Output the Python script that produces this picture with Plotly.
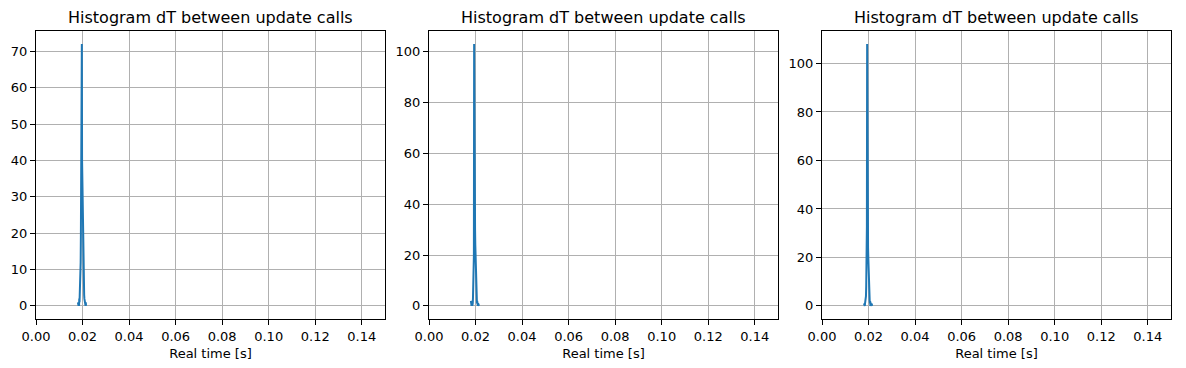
import plotly.graph_objects as go

# bin centers (s)
bins = [round(0.0180 + 0.0001 * i, 4) for i in range(36)]

counts_1 = [1, 0, 1, 0, 1, 0, 2, 1, 3, 5, 10, 8, 12, 20, 39, 30, 38, 72, 40, 35,
            28, 22, 15, 12, 14, 6, 5, 3, 2, 1, 2, 0, 1, 0, 1, 0]
counts_2 = [2, 0, 1, 0, 2, 1, 0, 2, 1, 3, 6, 12, 9, 20, 103, 45, 36, 51, 30, 24,
            18, 12, 8, 5, 3, 2, 1, 2, 0, 1, 0, 1, 0, 0, 1, 0]
counts_3 = [1, 0, 0, 1, 0, 1, 2, 1, 3, 4, 8, 12, 16, 33, 108, 42, 30, 38, 24, 20,
            14, 10, 8, 5, 3, 2, 1, 2, 0, 1, 1, 0, 1, 0, 1, 0]

series = [counts_1, counts_2, counts_3]
title = "Histogram dT between update calls"
xlabel = "Real time [s]"
x_ticks = [0.00, 0.02, 0.04, 0.06, 0.08, 0.10, 0.12, 0.14]

W, H = 1186, 368
OFF = 8  # page body margin
panels_px = [(36 - OFF, 385 - OFF), (429 - OFF, 778 - OFF), (822 - OFF, 1171 - OFF)]
y_top, y_bot = 31 - OFF, 319 - OFF
ydom = [1 - y_bot / H, 1 - y_top / H]
title_y = 17 - OFF
dticks = [10, 20, 20]

fig = go.Figure()
font = "DejaVu Sans, Liberation Sans, sans-serif"
annotations = []
for i, (vals, (x0, x1)) in enumerate(zip(series, panels_px)):
    n = i + 1
    xa = "x" if n == 1 else f"x{n}"
    ya = "y" if n == 1 else f"y{n}"
    fig.add_trace(go.Scatter(x=bins, y=vals, mode="lines",
                             line=dict(color="#1f77b4", width=2),
                             xaxis=xa, yaxis=ya, showlegend=False))
    vmax = max(vals)
    pad = 0.05 * vmax
    axis_common = dict(showline=True, linecolor="black", linewidth=1, mirror=True,
                       ticks="outside", ticklen=5, tickcolor="black", tickwidth=1,
                       showgrid=True, gridcolor="#b0b0b0", gridwidth=1, zeroline=False,
                       automargin=False,
                       tickfont=dict(family=font, size=13, color="black"))
    fig.update_layout(**{
        ("xaxis" if n == 1 else f"xaxis{n}"): dict(
            domain=[x0 / W, x1 / W], range=[0, 0.15], anchor=ya,
            tickvals=x_ticks, ticktext=[f"{t:.2f}" for t in x_ticks],
            title=dict(text=xlabel, font=dict(family=font, size=13, color="black"), standoff=6),
            **axis_common),
        ("yaxis" if n == 1 else f"yaxis{n}"): dict(
            domain=ydom, range=[-pad, vmax + pad], anchor=xa,
            dtick=dticks[i], tick0=0, **axis_common),
    })
    annotations.append(dict(text=title, x=(x0 + x1) / 2 / W, y=1 - title_y / H,
                            xref="paper", yref="paper", xanchor="center", yanchor="middle",
                            borderpad=0, showarrow=False,
                            font=dict(family=font, size=16, color="black")))

fig.update_layout(width=W, height=H, margin=dict(l=0, r=0, t=0, b=0, autoexpand=False),
                  paper_bgcolor="white", plot_bgcolor="white",
                  annotations=annotations)
fig.write_html("out.html")
